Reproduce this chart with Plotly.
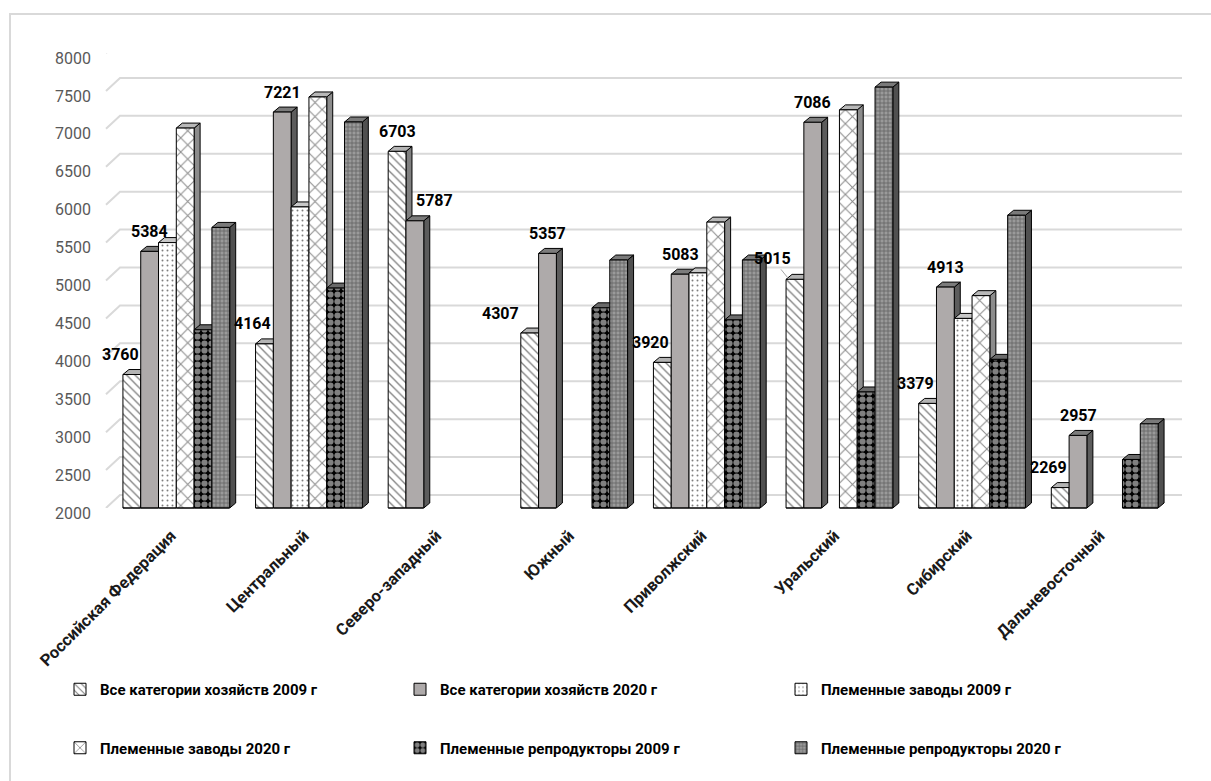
import plotly.graph_objects as go

# ---- data -----------------------------------------------------------------
regions = ["Российская Федерация", "Центральный", "Северо-западный", "Южный",
           "Приволжский", "Уральский", "Сибирский", "Дальневосточный"]

all_farms_2009 = [3760, 4164, 6703, 4307, 3920, 5015, 3379, 2269]
all_farms_2020 = [5384, 7221, 5787, 5357, 5083, 7086, 4913, 2957]
breeding_plants_2009 = [5500, 5970, None, None, 5100, None, 4500, None]
breeding_plants_2020 = [7010, 7420, None, None, 5770, 7250, 4800, None]
breeding_repro_2009 = [4350, 4900, None, 4640, 4480, 3530, 3960, 2640]
breeding_repro_2020 = [5700, 7090, None, 5270, 5270, 7550, 5860, 3110]

series_names = ["Все категории хозяйств 2009 г", "Все категории хозяйств 2020 г",
                "Племенные заводы 2009 г", "Племенные заводы 2020 г",
                "Племенные репродукторы 2009 г", "Племенные репродукторы 2020 г"]
series_values = [all_farms_2009, all_farms_2020, breeding_plants_2009,
                 breeding_plants_2020, breeding_repro_2009, breeding_repro_2020]

y_ticks = list(range(2000, 8001, 500))
Y_MIN, Y_MAX = 2000, 8000

# ---- geometry / styling ---------------------------------------------------
W, H = 1211, 781
M_L, M_R, M_T, M_B = 110, 40, 53, 273
PLOT_W = W - M_L - M_R
PLOT_H = H - M_T - M_B
BARGAP = 0.195
N_SER = len(series_values)
SLOT = (1 - BARGAP) / N_SER                  # bar width in category units
BAR_PX = PLOT_W / len(regions) * SLOT        # bar width in pixels
DX, DY = 6, 5                                # depth of the 3-D bars, px
DY_DATA = DY * (Y_MAX - Y_MIN) / PLOT_H

FONT = "Roboto, 'Noto Sans', 'DejaVu Sans', sans-serif"
GRID = "#d9d9d9"

styles = [
    dict(color="white", pattern=dict(shape="\\", fgcolor="black", bgcolor="white", size=6, solidity=0.22)),
    dict(color="#aeaaaa", pattern=None),
    dict(color="white", pattern=dict(shape=".", fgcolor="black", bgcolor="white", size=5, solidity=0.12)),
    dict(color="white", pattern=dict(shape="x", fgcolor="#1a1a1a", bgcolor="white", size=10, solidity=0.2)),
    dict(color="black", pattern=dict(shape=".", fgcolor="white", bgcolor="black", size=7, solidity=0.62)),
    dict(color="#8f8f8f", pattern=dict(shape="+", fgcolor="#2a2a2a", bgcolor="#9a9a9a", size=4, solidity=0.35)),
]
side_colors = ["#808080", "#5c5c5c", "#a0a0a0", "#8c8c8c", "#3a3a3a", "#505050"]
top_colors = ["#b4b4b4", "#7c7c7c", "#c8c8c8", "#b8b8b8", "#6a6a6a", "#7a7a7a"]
legend_of = ["legend", "legend2", "legend3", "legend", "legend2", "legend3"]

fig = go.Figure()

for name, vals, st, lg in zip(series_names, series_values, styles, legend_of):
    marker = dict(color=st["color"], line=dict(color="black", width=1))
    if st["pattern"]:
        marker["pattern"] = st["pattern"]
    fig.add_trace(go.Bar(
        x=regions, y=vals, name=name, marker=marker,
        legend=lg, legendgroup=name,
    ))


def bar_center(cat, ser):
    return cat - (1 - BARGAP) / 2 + (ser + 0.5) * SLOT


shapes = []

# chart frame
shapes.append(dict(type="path", xref="paper", yref="paper",
                   xsizemode="pixel", ysizemode="pixel", xanchor=0, yanchor=0,
                   path=f"M {10 - M_L},{-M_B - 10} L {10 - M_L},{PLOT_H + M_T - 14} L {W},{PLOT_H + M_T - 14}",
                   line=dict(color=GRID, width=2), layer="below"))

# gridlines on the back wall with the short floor diagonals
for t in y_ticks:
    shapes.append(dict(type="path", xref="paper", yref="y",
                       xsizemode="pixel", ysizemode="pixel", xanchor=0, yanchor=t,
                       path=f"M -4,0 L {DX + 4},{DY + 8} L {PLOT_W + 11},{DY + 8}",
                       line=dict(color=GRID, width=2), layer="below"))

# side and top faces of the bars
for s, vals in enumerate(series_values):
    for c, v in enumerate(vals):
        if v is None:
            continue
        xc = bar_center(c, s)
        left, right = xc - SLOT / 2, xc + SLOT / 2
        shapes.append(dict(type="path", xref="x", yref="y",
                           xsizemode="pixel", xanchor=right,
                           path=f"M 0,{Y_MIN} L {DX},{Y_MIN + DY_DATA} L {DX},{v + DY_DATA} L 0,{v} Z",
                           fillcolor=side_colors[s], line=dict(color="black", width=1), layer="below"))
        shapes.append(dict(type="path", xref="x", yref="y",
                           xsizemode="pixel", ysizemode="pixel", xanchor=left, yanchor=v,
                           path=f"M 0,0 L {DX},{DY} L {DX + BAR_PX:.2f},{DY} L {BAR_PX:.2f},0 Z",
                           fillcolor=top_colors[s], line=dict(color="black", width=1), layer="below"))
        shapes.append(dict(type="line", xref="x", yref="paper", x0=left, x1=right, y0=0, y1=0,
                           line=dict(color="black", width=1.5), layer="above"))

# value labels for the "all categories" series
label_font = dict(family=FONT, size=16, color="black", weight="bold")
special = {
    (2, 0): dict(xanchor="center", xshift=0),
    (2, 1): dict(xanchor="center", xshift=20),
    (3, 0): dict(xanchor="right", xshift=-BAR_PX),
}
annotations = []
for s in (0, 1):
    for c, v in enumerate(series_values[s]):
        xc = bar_center(c, s)
        if s == 1:
            pos = dict(x=xc, xanchor="center", xshift=0)
        else:
            pos = dict(x=xc + SLOT / 2, xanchor="right", xshift=0)
        if (c, s) in special:
            sp = special[(c, s)]
            pos = dict(x=xc + (SLOT / 2 if sp["xanchor"] == "right" else 0),
                       xanchor=sp["xanchor"], xshift=sp["xshift"])
        if (c, s) == (5, 0):
            annotations.append(dict(x=xc - SLOT / 2, y=v, xref="x", yref="y", text=str(v),
                                    showarrow=True, arrowhead=0, arrowwidth=1, arrowcolor="#a6a6a6",
                                    ax=-17, ay=-21, xshift=3, font=label_font))
            continue
        annotations.append(dict(x=pos["x"], y=v, xref="x", yref="y", text=str(v),
                                showarrow=False, xanchor=pos["xanchor"], yanchor="middle",
                                xshift=pos["xshift"], yshift=20, font=label_font))

legend_font = dict(family=FONT, size=15, color="black", weight="bold")
leg_common = dict(orientation="v", yanchor="top", xanchor="left", font=legend_font,
                  tracegroupgap=36, bgcolor="rgba(0,0,0,0)", y=(M_T + PLOT_H - 673) / PLOT_H)

fig.update_layout(
    width=W, height=H,
    margin=dict(l=M_L, r=M_R, t=M_T, b=M_B, autoexpand=False),
    paper_bgcolor="white", plot_bgcolor="white",
    barmode="group", bargap=BARGAP, bargroupgap=0,
    showlegend=True,
    legend=dict(leg_common, x=(60 - M_L) / PLOT_W),
    legend2=dict(leg_common, x=(400 - M_L) / PLOT_W),
    legend3=dict(leg_common, x=(781 - M_L) / PLOT_W),
    xaxis=dict(type="category", range=[-0.5, len(regions) - 0.5], autorange=False,
               showgrid=False, zeroline=False, showline=False, ticks="",
               tickangle=-45, tickfont=dict(family=FONT, size=16.5, color="#1a1a1a", weight="bold"),
               ticklabelstandoff=14, ticklabelshift=-5),
    yaxis=dict(range=[Y_MIN, Y_MAX], tickvals=y_ticks, showgrid=False, zeroline=False,
               showline=False, ticks="", ticklabelstandoff=18, ticklabelshift=5,
               tickfont=dict(family=FONT, size=16, color="#595959")),
    shapes=shapes,
    annotations=annotations,
)

fig.write_html("out.html")
